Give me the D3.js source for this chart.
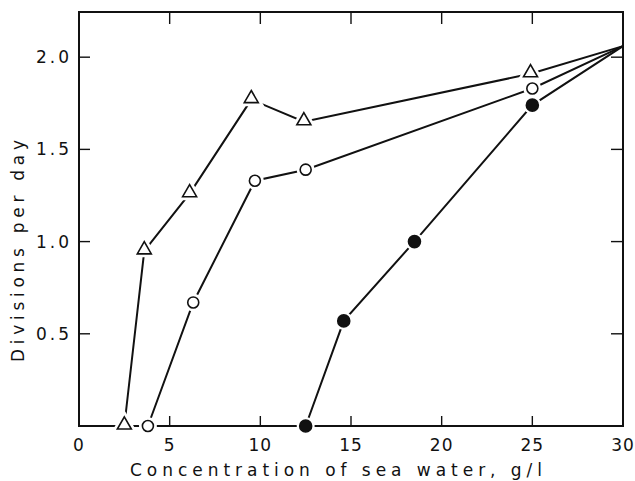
<!DOCTYPE html>
<html>
<head>
  <meta charset="utf-8">
  <title>Divisions per day vs sea water concentration</title>
  <script src="https://d3js.org/d3.v7.min.js"></script>
  <style>
    body { margin: 0; background: #fff; }
    svg text { font-family: "DejaVu Sans", sans-serif; fill: #111; }
  </style>
</head>
<body>
<svg id="chart" width="635" height="481"></svg>
<script>
// data
var triX = [2.5, 3.6, 6.1, 9.5, 12.4, 24.9, 30];
var triY = [0, 0.95, 1.26, 1.77, 1.65, 1.91, 2.06];
var openX = [3.8, 6.3, 9.7, 12.5, 25, 30];
var openY = [0, 0.67, 1.33, 1.39, 1.83, 2.06];
var fillX = [12.5, 14.6, 18.5, 25, 30];
var fillY = [0, 0.57, 1.0, 1.74, 2.06];
var xTicks = [0, 5, 10, 15, 20, 25, 30];
var yTicks = [0.5, 1.0, 1.5, 2.0];
var yTickLabels = ["0.5", "1.0", "1.5", "2.0"];

var margin = { top: 12, right: 12, bottom: 55, left: 79 };
var width = 635 - margin.left - margin.right;
var height = 481 - margin.top - margin.bottom;

var svg = d3.select("#chart")
  .append("g")
  .attr("transform", "translate(" + margin.left + "," + margin.top + ")");

var x = d3.scaleLinear().domain([0, 30]).range([0, width]);
var y = d3.scaleLinear().domain([0, 2.245]).range([height, 0]);

// frame
svg.append("rect")
  .attr("width", width).attr("height", height)
  .attr("fill", "none").attr("stroke", "#111").attr("stroke-width", 2);

// inward ticks on all four sides
var inner = xTicks.slice(1, -1);
svg.selectAll(".tb").data(inner).enter().append("line")
  .attr("x1", d => x(d)).attr("x2", d => x(d))
  .attr("y1", height).attr("y2", height - 10)
  .attr("stroke", "#111").attr("stroke-width", 1.4);
svg.selectAll(".tt").data(inner).enter().append("line")
  .attr("x1", d => x(d)).attr("x2", d => x(d))
  .attr("y1", 0).attr("y2", 12)
  .attr("stroke", "#111").attr("stroke-width", 1.4);
svg.selectAll(".tl").data(yTicks).enter().append("line")
  .attr("x1", 0).attr("x2", 11)
  .attr("y1", d => y(d)).attr("y2", d => y(d))
  .attr("stroke", "#111").attr("stroke-width", 1.4);
svg.selectAll(".tr").data(yTicks).enter().append("line")
  .attr("x1", width).attr("x2", width - 12)
  .attr("y1", d => y(d)).attr("y2", d => y(d))
  .attr("stroke", "#111").attr("stroke-width", 1.4);

// tick labels
svg.selectAll(".xl").data(xTicks).enter().append("text")
  .attr("x", d => x(d)).attr("y", height + 25)
  .attr("text-anchor", "middle").attr("font-size", 17)
  .attr("letter-spacing", 1)
  .text(d => d);
svg.selectAll(".yl").data(yTicks).enter().append("text")
  .attr("x", -7).attr("y", d => y(d) + 6)
  .attr("text-anchor", "end").attr("font-size", 17)
  .attr("letter-spacing", 3)
  .text((d, i) => yTickLabels[i]);

// axis titles
svg.append("text")
  .attr("x", 51).attr("y", height + 50)
  .attr("font-size", 17)
  .attr("textLength", 412).attr("lengthAdjust", "spacing")
  .text("Concentration of sea water, g/l");
svg.append("text")
  .attr("transform", "translate(-55," + (362 - margin.top) + ") rotate(-90)")
  .attr("font-size", 17)
  .attr("textLength", 222).attr("lengthAdjust", "spacing")
  .text("Divisions per day");

// series
function series(xs, ys, kind) {
  var pts = xs.map((d, i) => [x(d), y(ys[i])]);
  var line = d3.line();
  svg.append("path")
    .attr("d", line(pts))
    .attr("fill", "none").attr("stroke", "#111").attr("stroke-width", 2);
  var g = svg.append("g");
  pts.forEach(function(p, i) {
    if (i === pts.length - 1) return; // common end point has no marker
    if (kind === "tri") {
      var s = d3.symbol().type(d3.symbolTriangle).size(85);
      g.append("path").attr("d", s()).attr("transform", "translate(" + p[0] + "," + (p[1] - 1) + ")")
        .attr("fill", "#fff").attr("stroke", "#fff").attr("stroke-width", 7);
      g.append("path").attr("d", s()).attr("transform", "translate(" + p[0] + "," + (p[1] - 1) + ")")
        .attr("fill", "#fff").attr("stroke", "#111").attr("stroke-width", 1.6);
    } else {
      g.append("circle").attr("cx", p[0]).attr("cy", p[1]).attr("r", 9)
        .attr("fill", "#fff");
      g.append("circle").attr("cx", p[0]).attr("cy", p[1]).attr("r", kind === "fill" ? 6 : 5.5)
        .attr("fill", kind === "fill" ? "#111" : "#fff")
        .attr("stroke", "#111").attr("stroke-width", 1.6);
    }
  });
}
series(triX, triY, "tri");
series(openX, openY, "open");
series(fillX, fillY, "fill");
</script>
</body>
</html>
